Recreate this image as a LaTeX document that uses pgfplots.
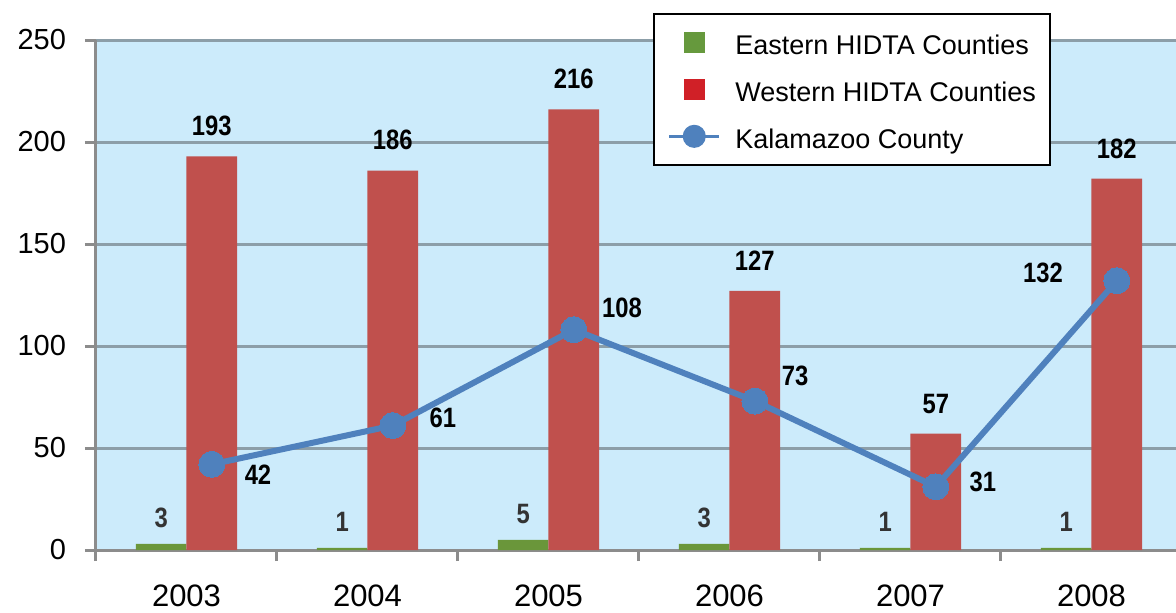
\documentclass[border=0pt]{standalone}
\usepackage{pgfplots}
\pgfplotsset{compat=1.18}
\usepackage{pgfplotstable}
\usepackage{fontspec}
\setmainfont{Liberation Sans}
\newfontfamily\lblfont{Liberation Sans}[FakeStretch=0.85]
\definecolor{bgblue}{RGB}{204,235,251}
\definecolor{barred}{RGB}{192,80,77}
\definecolor{bargreen}{RGB}{106,150,58}
\definecolor{legred}{RGB}{208,32,39}
\definecolor{leggreen}{RGB}{102,153,61}
\definecolor{lineblue}{RGB}{79,129,189}
\definecolor{gridgray}{RGB}{140,158,168}
\definecolor{axgray}{RGB}{140,140,140}
\pgfplotstableread{
x    xk    east west kal
0    0.14  3    193  42
1    1.14  1    186  61
2    2.14  5    216  108
3    3.14  3    127  73
4    4.14  1    57   31
5    5.14  1    182  132
}\data
\newcommand{\lbl}{\lblfont\bfseries\fontsize{14}{14}\selectfont}
\begin{document}
\begin{tikzpicture}
\begin{axis}[
  scale only axis, width=540pt, height=255pt,
  xmin=-0.5, xmax=5.467, ymin=0, ymax=250,
  axis background/.style={fill=bgblue},
  axis x line=bottom, axis y line=left,
  axis line style={-, draw=axgray, line width=1.5pt},
  ytick={0,50,100,150,200,250},
  /pgf/number format/assume math mode=true,
  yticklabel style={font=\fontsize{14.5}{14.5}\selectfont, xshift=-6pt},
  ymajorgrids, major grid style={draw=gridgray, line width=1.5pt},
  tick align=outside, major tick length=5.5pt,
  tick style={draw=axgray, line width=1.5pt},
  xtick={-0.5,0.5,1.5,2.5,3.5,4.5}, xticklabels={},
  extra x ticks={0,1,2,3,4,5},
  extra x tick labels={2003,2004,2005,2006,2007,2008},
  extra x tick style={major tick length=0pt, grid=none,
    xticklabel style={font=\fontsize{15.5}{15.5}\selectfont, yshift=-14pt}},
  legend cell align=left,
  legend style={at={(rel axis cs:0.5157,1.0529)}, anchor=north west,
    draw=black, line width=0.8pt, fill=white,
    inner xsep=7pt, inner ysep=5.5pt, row sep=6pt,
    font=\fontsize{13.5}{13.5}\selectfont,
    nodes={inner xsep=0pt, inner ysep=1pt},
    /tikz/every even column/.append style={nodes={text height=14pt}}},
]
\addplot[ybar, bar width=0.28, bar shift=-0.14, fill=bargreen, draw=none,
  nodes near coords,
  every node near coord/.append style={font=\lbl, text=black!80, inner sep=0pt, yshift=8pt, xshift=-12.65pt},
  legend image code/.code={\fill[leggreen] (7.25pt,-5.25pt) rectangle (17.75pt,5.25pt); \path (0,0) (31.5pt,0);}]
  table[x=x, y=east]{\data};
\addlegendentry{Eastern HIDTA Counties}
\addplot[ybar, bar width=0.28, bar shift=0.14, fill=barred, draw=none,
  nodes near coords,
  every node near coord/.append style={font=\lbl, text=black, inner sep=0pt, yshift=10pt, xshift=12.65pt},
  legend image code/.code={\fill[legred] (7.25pt,-5.25pt) rectangle (17.75pt,5.25pt); \path (0,0) (31.5pt,0);}]
  table[x=x, y=west]{\data};
\addlegendentry{Western HIDTA Counties}
\addplot[draw=lineblue, line width=3pt, mark=*, mark size=6.5pt,
  mark options={fill=lineblue, draw=lineblue, line width=0pt},
  legend image code/.code={\draw[lineblue, line width=1.5pt] (0,0)--(25pt,0); \fill[lineblue] (12.5pt,0) circle (4.25pt); \path (31.5pt,0);}]
  table[x=xk, y=kal]{\data};
\addlegendentry{Kalamazoo County}
\node[font=\lbl] at (axis cs:0.395,36.8) {42};
\node[font=\lbl] at (axis cs:1.417,64.7) {61};
\node[font=\lbl] at (axis cs:2.406,118.6) {108};
\node[font=\lbl] at (axis cs:3.362,85.3) {73};
\node[font=\lbl] at (axis cs:4.40,33.3) {31};
\node[font=\lbl] at (axis cs:4.732,135.8) {132};
\end{axis}
\pgfresetboundingbox
\path[use as bounding box] (-48pt,-31pt) rectangle (540pt,275pt);
\end{tikzpicture}
\end{document}
